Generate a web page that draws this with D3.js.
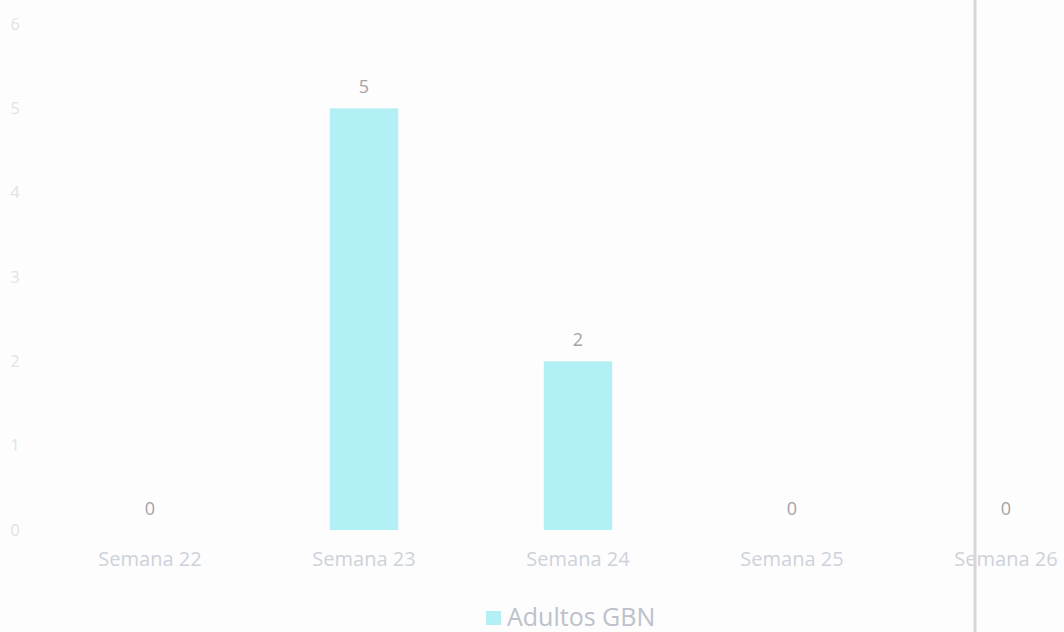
<!DOCTYPE html>
<html>
<head>
<meta charset="utf-8">
<script src="https://cdn.jsdelivr.net/npm/d3@7"></script>
<style>
  html, body { margin: 0; padding: 0; background: #fdfdfd; }
  svg { display: block; }
  text { font-family: "Open Sans", sans-serif; }
</style>
</head>
<body>
<svg width="1064" height="632"></svg>
<script>
const categories = ["Semana 22", "Semana 23", "Semana 24", "Semana 25", "Semana 26"];
const values = [0, 5, 2, 0, 0];
const yTicks = [0, 1, 2, 3, 4, 5, 6];
const seriesName = "Adultos GBN";

const svg = d3.select("svg");
const barColor = "#b2f0f5";

// plot runs past the right edge like the scanned original
const x = d3.scaleBand()
    .domain(categories)
    .range([43, 1113])
    .paddingInner(0.68)
    .paddingOuter(0.34);

const y = d3.scaleLinear()
    .domain([0, 6])
    .range([530, 24]);

// y axis labels, no line
const yAxis = svg.append("g")
    .attr("transform", "translate(22,0)")
    .call(d3.axisLeft(y).tickValues(yTicks).tickFormat(d3.format("d")).tickSize(0).tickPadding(0));
yAxis.select(".domain").remove();
yAxis.selectAll("text")
    .attr("fill", "#dfe2e7")
    .attr("font-size", 16)
    .attr("text-anchor", "middle")
    .attr("dx", -7);

// bars
svg.selectAll("rect.bar")
    .data(values)
    .enter()
    .append("rect")
    .attr("class", "bar")
    .attr("x", (d, i) => x(categories[i]))
    .attr("y", d => y(d))
    .attr("width", x.bandwidth())
    .attr("height", d => y(0) - y(d))
    .attr("fill", barColor);

// value labels
svg.selectAll("text.val")
    .data(values)
    .enter()
    .append("text")
    .attr("class", "val")
    .attr("x", (d, i) => x(categories[i]) + x.bandwidth() / 2)
    .attr("y", d => y(d) - 15)
    .attr("text-anchor", "middle")
    .attr("font-size", 18)
    .attr("fill", "#a4a4a6")
    .text(d => d);

// category axis
const xAxis = svg.append("g")
    .attr("transform", "translate(0,552)")
    .call(d3.axisBottom(x).tickSize(0).tickPadding(0));
xAxis.select(".domain").remove();
xAxis.selectAll("text")
    .attr("fill", "#cdd2db")
    .attr("font-size", 20);

// grey fold line from the scan
svg.append("line")
    .attr("x1", 975).attr("x2", 975)
    .attr("y1", 0).attr("y2", 632)
    .attr("stroke", "#d9d5d7")
    .attr("stroke-width", 3);

// legend
const legend = svg.append("g").attr("transform", "translate(486,626)");
legend.append("rect")
    .attr("x", 0).attr("y", -15)
    .attr("width", 15).attr("height", 14)
    .attr("fill", barColor);
legend.append("text")
    .attr("x", 21).attr("y", 0)
    .attr("font-size", 25)
    .attr("fill", "#bcc1ca")
    .text(seriesName);
</script>
</body>
</html>
